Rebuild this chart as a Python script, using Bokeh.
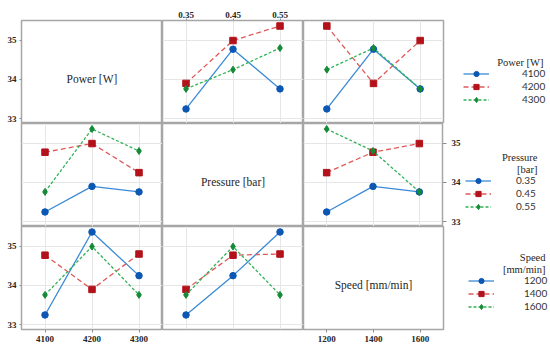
import pandas as pd
from bokeh.plotting import figure
from bokeh.layouts import row, column
from bokeh.models import (Range1d, FixedTicker, LinearAxis, Legend, LegendItem,
                          Label, ColumnDataSource, Grid)
from bokeh.embed import file_html
from bokeh.resources import INLINE

# ---------------- data (L9 runs) ----------------
factor_names = ["Power [W]", "Pressure [bar]", "Speed [mm/min]"]
legend_title_lines = [["Power [W]"], ["Pressure", "[bar]"], ["Speed", "[mm/min]"]]
power_levels = [4100, 4200, 4300]
pressure_levels = [0.35, 0.45, 0.55]
speed_levels = [1200, 1400, 1600]
y_ticks = [33, 34, 35]

run_power = [4100, 4100, 4100, 4200, 4200, 4200, 4300, 4300, 4300]
run_pressure = [0.35, 0.45, 0.55, 0.35, 0.45, 0.55, 0.35, 0.45, 0.55]
run_speed = [1200, 1400, 1600, 1400, 1600, 1200, 1600, 1200, 1400]
run_response = [33.25, 34.77, 33.76, 33.90, 34.99, 35.36, 33.76, 34.25, 34.80]

# ---------------- styles ----------------
line_colors = ["#3a8ad6", "#de5a5a", "#2fb356"]
marker_colors = ["#0b57b3", "#b3121a", "#148a36"]
markers = ["circle", "square", "diamond"]
dashes = ["solid", "5 3", "3 2"]
msizes = [6.5, 6.5, 7]

FONT_SERIF = "Liberation Serif"
OUTLINE = "#a6a6a6"
GRID = "#e6e6e6"

levels = [power_levels, pressure_levels, speed_levels]
x_ranges = [Range1d(4050, 4350), Range1d(0.30, 0.60), Range1d(1100, 1700)]
y_range = Range1d(32.88, 35.5)

df = pd.DataFrame({"f0": run_power, "f1": run_pressure, "f2": run_speed,
                   "y": run_response})

# figure sizes / borders per column and row (all figures in a row share
# top/bottom borders, all in a column share left/right borders)
W = [162, 141, 160, 85]
BL = [21, 0, 0, 0]
BR = [0, 0, 20, 0]
H = [123, 103, 120]
BT = [20, 0, 0]
BB = [0, 0, 17]


def make_axis(ticks, standoff=2, tick_out=2):
    return LinearAxis(
        ticker=FixedTicker(ticks=ticks), axis_line_color=None,
        major_tick_out=tick_out, major_tick_in=0,
        major_tick_line_color="#8c8c8c", minor_tick_line_color=None,
        major_label_standoff=standoff,
        major_label_text_font=FONT_SERIF, major_label_text_font_style="bold",
        major_label_text_font_size="9px", major_label_text_color="#262626")


def base_fig(r, c, xr, yr, outline=OUTLINE):
    p = figure(width=W[c], height=H[r], x_range=xr, y_range=yr,
               output_backend="svg", toolbar_location=None,
               x_axis_location=None, y_axis_location=None,
               min_border_left=BL[c], min_border_right=BR[c],
               min_border_top=BT[r], min_border_bottom=BB[r],
               outline_line_color=outline, outline_line_width=1.5,
               background_fill_color="white", border_fill_color="white")
    p.center = [g for g in p.center if not isinstance(g, Grid)]
    return p


def series(r, c, lvl):
    sub = (df[df[f"f{r}"] == lvl].groupby(f"f{c}")["y"].mean()
           .reset_index().sort_values(f"f{c}"))
    return ColumnDataSource(data=dict(x=sub[f"f{c}"].tolist(), y=sub["y"].tolist()))


def draw_series(p, src, k):
    lr = p.line("x", "y", source=src, line_color=line_colors[k],
                line_dash=dashes[k], line_width=1.3)
    sr = p.scatter("x", "y", source=src, marker=markers[k], size=msizes[k],
                   fill_color=marker_colors[k], line_color=marker_colors[k])
    return lr, sr


def make_panel(r, c):
    p = base_fig(r, c, x_ranges[c], y_range)
    if r == c:
        xr = x_ranges[c]
        p.add_layout(Label(x=(xr.start + xr.end) / 2, y=34, text=factor_names[r],
                           text_align="center", text_baseline="middle",
                           text_font=FONT_SERIF, text_font_style="normal",
                           text_font_size="11.5px", text_color="#262626"))
    else:
        p.add_layout(Grid(dimension=0, ticker=FixedTicker(ticks=levels[c]),
                          grid_line_color=GRID))
        p.add_layout(Grid(dimension=1, ticker=FixedTicker(ticks=y_ticks),
                          grid_line_color=GRID))
        for k, lvl in enumerate(levels[r]):
            draw_series(p, series(r, c, lvl), k)
    # axes (Minitab alternating layout)
    if c == 0 and r in (0, 2):
        p.add_layout(make_axis(y_ticks, standoff=3, tick_out=2), "left")
    if r == 1 and c == 2:
        p.add_layout(make_axis(y_ticks, standoff=5, tick_out=4), "right")
    if r == 0 and c == 1:
        p.add_layout(make_axis(levels[c], standoff=1, tick_out=2), "above")
    if r == 2 and c in (0, 2):
        p.add_layout(make_axis(levels[c], standoff=3, tick_out=3), "below")
    return p


# legend placement (screen px, relative to the legend figure's frame)
LEG_X = [0, 2, 5]
LEG_Y = [17.5, 13.5, 16.5]
LEG_STANDOFF = [33, 25, 30]
TITLE_X = [80, 74, 82]
TITLE_Y = [[61], [69, 57], [72, 60]]


def make_legend_fig(r):
    # the legend's renderers reuse the row's data but lie outside this frame
    lf = base_fig(r, 3, Range1d(0, 1), Range1d(0, 1), outline=None)
    c_src = 1 if r == 0 else 0
    items = []
    for k, lvl in enumerate(levels[r]):
        lr, sr = draw_series(lf, series(r, c_src, lvl), k)
        items.append(LegendItem(label=str(lvl), renderers=[lr, sr]))
    leg = Legend(items=items, location=(LEG_X[r], LEG_Y[r]), margin=0, padding=0,
                 spacing=0, glyph_width=26, glyph_height=13, label_height=13,
                 label_standoff=LEG_STANDOFF[r], label_text_font="Lato",
                 label_text_font_size="10px", label_text_color="#333333",
                 border_line_color=None, background_fill_alpha=0)
    lf.add_layout(leg)
    for line_text, ty in zip(legend_title_lines[r], TITLE_Y[r]):
        lf.add_layout(Label(x=TITLE_X[r], y=ty, x_units="screen", y_units="screen",
                            text=line_text, text_align="right",
                            text_baseline="middle", text_font=FONT_SERIF,
                            text_font_style="normal",
                            text_font_size="10.5px", text_color="#262626"))
    return lf


rows = []
for r in range(3):
    rows.append(row(*[make_panel(r, c) for c in range(3)], make_legend_fig(r)))
layout = column(*rows)

open("out.html", "w").write(file_html(layout, INLINE))
